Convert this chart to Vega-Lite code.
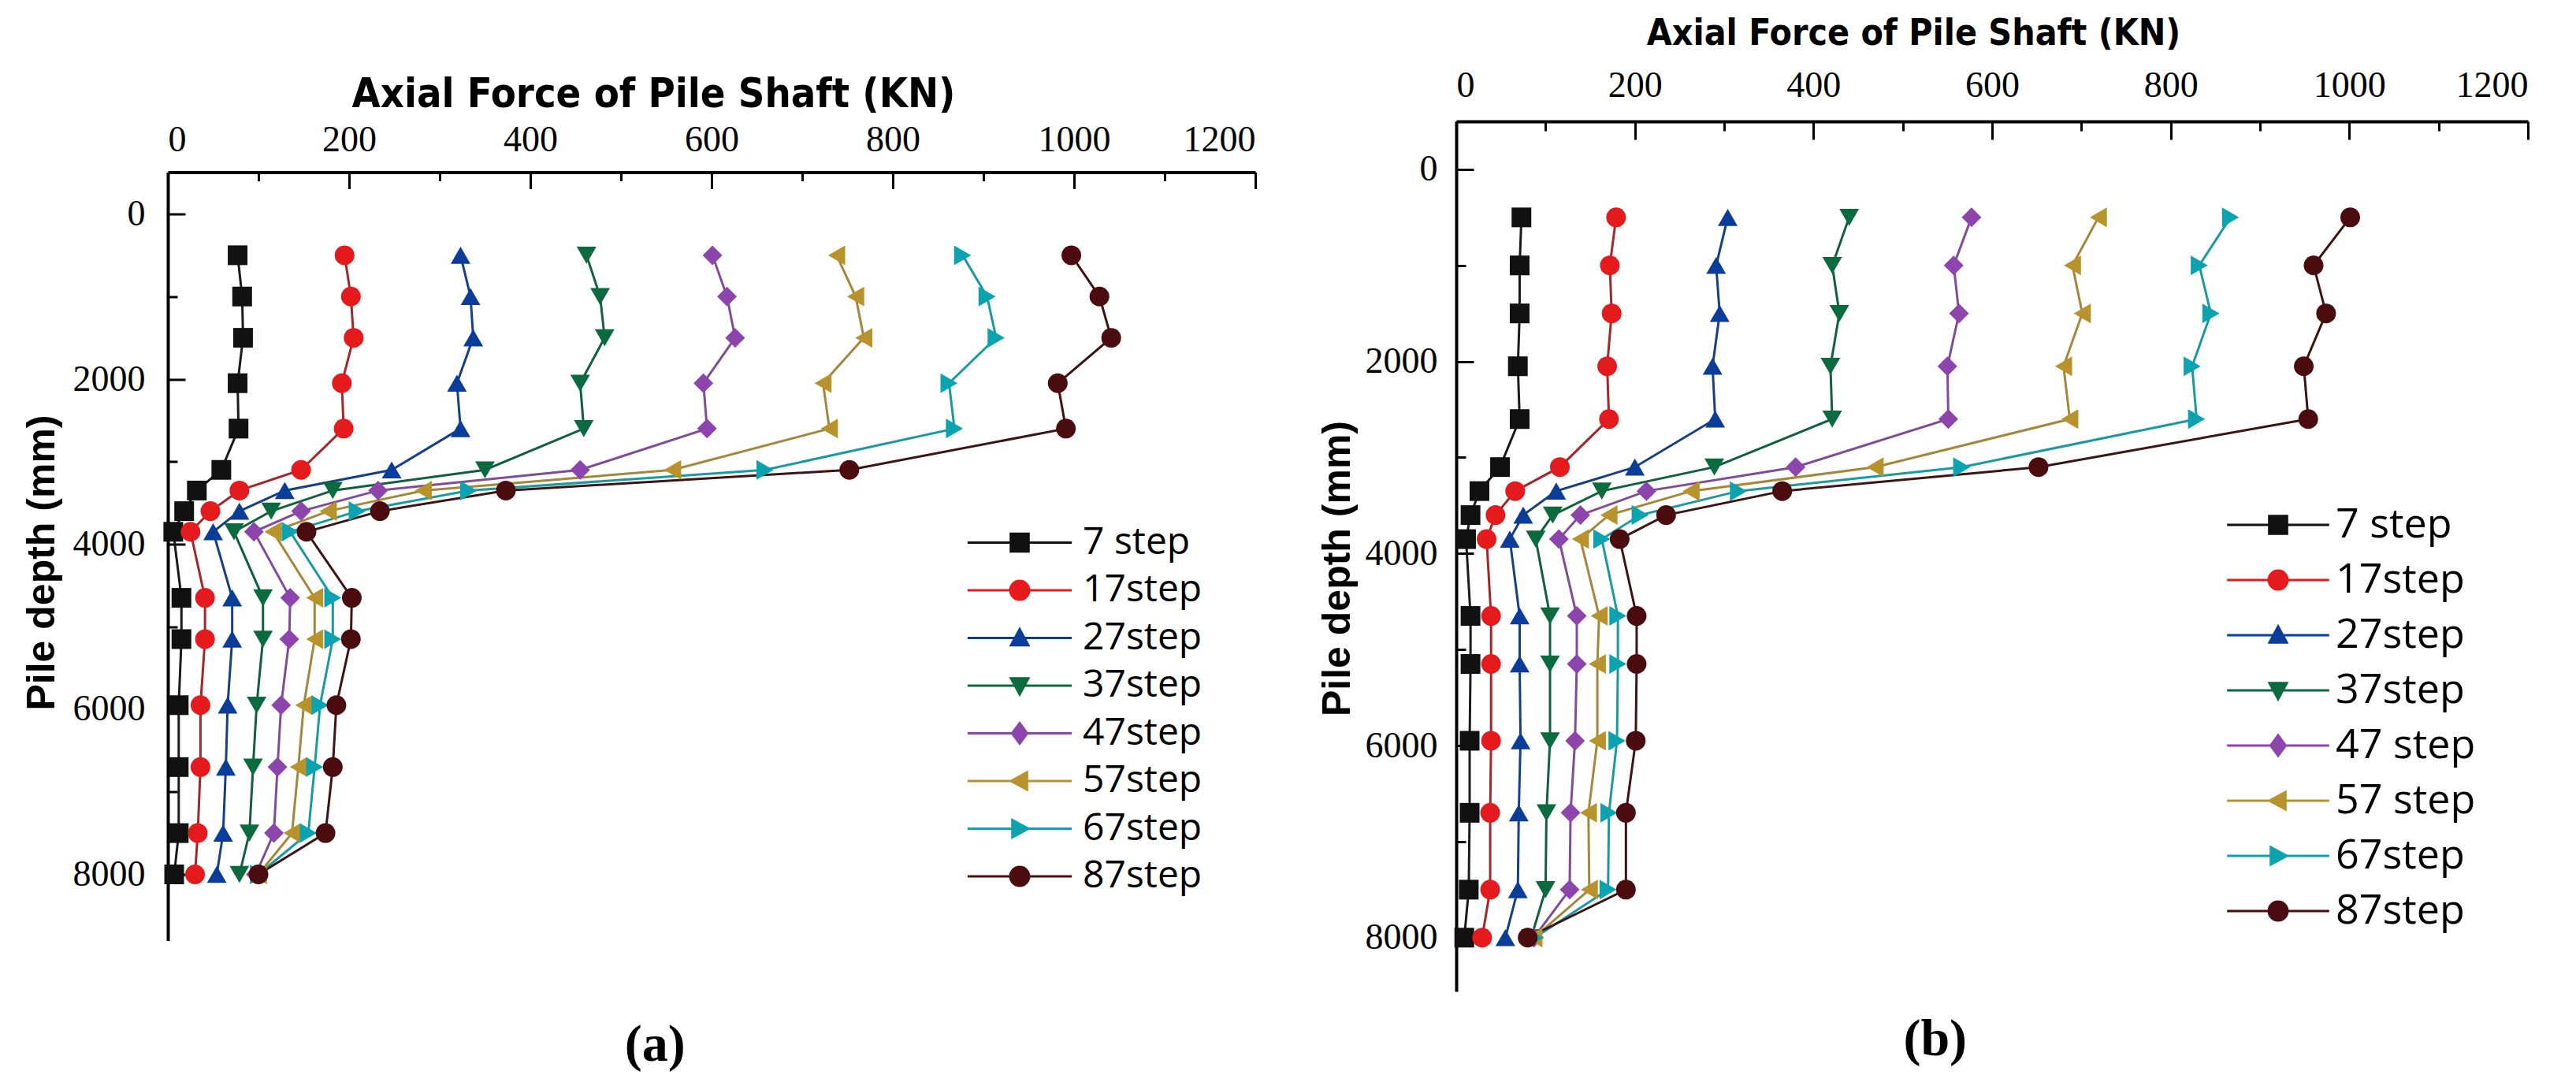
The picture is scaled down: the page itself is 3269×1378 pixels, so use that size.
{
  "$schema": "https://vega.github.io/schema/vega-lite/v6.json",
  "background": "white",
  "padding": {"left": 28, "top": 19, "right": 5, "bottom": 5},
  "config": {
    "view": {"stroke": null},
    "axis": {
      "grid": false,
      "domainColor": "black",
      "domainWidth": 4,
      "tickColor": "black",
      "tickWidth": 3,
      "labelColor": "black",
      "labelFont": "Liberation Serif",
      "labelFontSize": 46,
      "labelOverlap": false,
      "titleColor": "black"
    }
  },
  "datasets": {
    "a": [
      {"step": "7 step", "depth": 500, "force": 77}, {"step": "7 step", "depth": 1000, "force": 82}, {"step": "7 step", "depth": 1500, "force": 83}, {"step": "7 step", "depth": 2050, "force": 77}, {"step": "7 step", "depth": 2600, "force": 78}, {"step": "7 step", "depth": 3100, "force": 59}, {"step": "7 step", "depth": 3350, "force": 32}, {"step": "7 step", "depth": 3600, "force": 18}, {"step": "7 step", "depth": 3850, "force": 6}, {"step": "7 step", "depth": 4650, "force": 15}, {"step": "7 step", "depth": 5150, "force": 15}, {"step": "7 step", "depth": 5950, "force": 12}, {"step": "7 step", "depth": 6700, "force": 12}, {"step": "7 step", "depth": 7500, "force": 12}, {"step": "7 step", "depth": 8000, "force": 7},
      {"step": "17step", "depth": 500, "force": 195}, {"step": "17step", "depth": 1000, "force": 202}, {"step": "17step", "depth": 1500, "force": 205}, {"step": "17step", "depth": 2050, "force": 192}, {"step": "17step", "depth": 2600, "force": 194}, {"step": "17step", "depth": 3100, "force": 147}, {"step": "17step", "depth": 3350, "force": 79}, {"step": "17step", "depth": 3600, "force": 47}, {"step": "17step", "depth": 3850, "force": 25}, {"step": "17step", "depth": 4650, "force": 41}, {"step": "17step", "depth": 5150, "force": 41}, {"step": "17step", "depth": 5950, "force": 36}, {"step": "17step", "depth": 6700, "force": 36}, {"step": "17step", "depth": 7500, "force": 33}, {"step": "17step", "depth": 8000, "force": 30},
      {"step": "27step", "depth": 500, "force": 323}, {"step": "27step", "depth": 1000, "force": 334}, {"step": "27step", "depth": 1500, "force": 337}, {"step": "27step", "depth": 2050, "force": 319}, {"step": "27step", "depth": 2600, "force": 323}, {"step": "27step", "depth": 3100, "force": 247}, {"step": "27step", "depth": 3350, "force": 129}, {"step": "27step", "depth": 3600, "force": 79}, {"step": "27step", "depth": 3850, "force": 50}, {"step": "27step", "depth": 4650, "force": 71}, {"step": "27step", "depth": 5150, "force": 71}, {"step": "27step", "depth": 5950, "force": 66}, {"step": "27step", "depth": 6700, "force": 64}, {"step": "27step", "depth": 7500, "force": 61}, {"step": "27step", "depth": 8000, "force": 54},
      {"step": "37step", "depth": 500, "force": 462}, {"step": "37step", "depth": 1000, "force": 477}, {"step": "37step", "depth": 1500, "force": 482}, {"step": "37step", "depth": 2050, "force": 455}, {"step": "37step", "depth": 2600, "force": 459}, {"step": "37step", "depth": 3100, "force": 350}, {"step": "37step", "depth": 3350, "force": 182}, {"step": "37step", "depth": 3600, "force": 114}, {"step": "37step", "depth": 3850, "force": 73}, {"step": "37step", "depth": 4650, "force": 105}, {"step": "37step", "depth": 5150, "force": 105}, {"step": "37step", "depth": 5950, "force": 98}, {"step": "37step", "depth": 6700, "force": 94}, {"step": "37step", "depth": 7500, "force": 90}, {"step": "37step", "depth": 8000, "force": 79},
      {"step": "47step", "depth": 500, "force": 601}, {"step": "47step", "depth": 1000, "force": 617}, {"step": "47step", "depth": 1500, "force": 626}, {"step": "47step", "depth": 2050, "force": 591}, {"step": "47step", "depth": 2600, "force": 595}, {"step": "47step", "depth": 3100, "force": 455}, {"step": "47step", "depth": 3350, "force": 232}, {"step": "47step", "depth": 3600, "force": 147}, {"step": "47step", "depth": 3850, "force": 95}, {"step": "47step", "depth": 4650, "force": 135}, {"step": "47step", "depth": 5150, "force": 134}, {"step": "47step", "depth": 5950, "force": 125}, {"step": "47step", "depth": 6700, "force": 121}, {"step": "47step", "depth": 7500, "force": 117}, {"step": "47step", "depth": 8000, "force": 97},
      {"step": "57step", "depth": 500, "force": 738}, {"step": "57step", "depth": 1000, "force": 759}, {"step": "57step", "depth": 1500, "force": 768}, {"step": "57step", "depth": 2050, "force": 723}, {"step": "57step", "depth": 2600, "force": 730}, {"step": "57step", "depth": 3100, "force": 557}, {"step": "57step", "depth": 3350, "force": 282}, {"step": "57step", "depth": 3600, "force": 177}, {"step": "57step", "depth": 3850, "force": 116}, {"step": "57step", "depth": 4650, "force": 162}, {"step": "57step", "depth": 5150, "force": 162}, {"step": "57step", "depth": 5950, "force": 150}, {"step": "57step", "depth": 6700, "force": 144}, {"step": "57step", "depth": 7500, "force": 137}, {"step": "57step", "depth": 8000, "force": 100},
      {"step": "67step", "depth": 500, "force": 877}, {"step": "67step", "depth": 1000, "force": 904}, {"step": "67step", "depth": 1500, "force": 914}, {"step": "67step", "depth": 2050, "force": 862}, {"step": "67step", "depth": 2600, "force": 868}, {"step": "67step", "depth": 3100, "force": 659}, {"step": "67step", "depth": 3350, "force": 332}, {"step": "67step", "depth": 3600, "force": 209}, {"step": "67step", "depth": 3850, "force": 135}, {"step": "67step", "depth": 4650, "force": 182}, {"step": "67step", "depth": 5150, "force": 182}, {"step": "67step", "depth": 5950, "force": 168}, {"step": "67step", "depth": 6700, "force": 162}, {"step": "67step", "depth": 7500, "force": 155}, {"step": "67step", "depth": 8000, "force": 100},
      {"step": "87step", "depth": 500, "force": 997}, {"step": "87step", "depth": 1000, "force": 1028}, {"step": "87step", "depth": 1500, "force": 1041}, {"step": "87step", "depth": 2050, "force": 982}, {"step": "87step", "depth": 2600, "force": 991}, {"step": "87step", "depth": 3100, "force": 752}, {"step": "87step", "depth": 3350, "force": 373}, {"step": "87step", "depth": 3600, "force": 234}, {"step": "87step", "depth": 3850, "force": 153}, {"step": "87step", "depth": 4650, "force": 203}, {"step": "87step", "depth": 5150, "force": 202}, {"step": "87step", "depth": 5950, "force": 186}, {"step": "87step", "depth": 6700, "force": 182}, {"step": "87step", "depth": 7500, "force": 174}, {"step": "87step", "depth": 8000, "force": 100}
    ],
    "b": [
      {"step": "7 step", "depth": 500, "force": 73}, {"step": "7 step", "depth": 1000, "force": 71}, {"step": "7 step", "depth": 1500, "force": 71}, {"step": "7 step", "depth": 2050, "force": 69}, {"step": "7 step", "depth": 2600, "force": 71}, {"step": "7 step", "depth": 3100, "force": 49}, {"step": "7 step", "depth": 3350, "force": 26}, {"step": "7 step", "depth": 3600, "force": 16}, {"step": "7 step", "depth": 3850, "force": 11}, {"step": "7 step", "depth": 4650, "force": 16}, {"step": "7 step", "depth": 5150, "force": 16}, {"step": "7 step", "depth": 5950, "force": 15}, {"step": "7 step", "depth": 6700, "force": 15}, {"step": "7 step", "depth": 7500, "force": 14}, {"step": "7 step", "depth": 8000, "force": 9},
      {"step": "17step", "depth": 500, "force": 179}, {"step": "17step", "depth": 1000, "force": 172}, {"step": "17step", "depth": 1500, "force": 174}, {"step": "17step", "depth": 2050, "force": 169}, {"step": "17step", "depth": 2600, "force": 171}, {"step": "17step", "depth": 3100, "force": 116}, {"step": "17step", "depth": 3350, "force": 66}, {"step": "17step", "depth": 3600, "force": 44}, {"step": "17step", "depth": 3850, "force": 34}, {"step": "17step", "depth": 4650, "force": 39}, {"step": "17step", "depth": 5150, "force": 39}, {"step": "17step", "depth": 5950, "force": 39}, {"step": "17step", "depth": 6700, "force": 38}, {"step": "17step", "depth": 7500, "force": 38}, {"step": "17step", "depth": 8000, "force": 29},
      {"step": "27step", "depth": 500, "force": 304}, {"step": "27step", "depth": 1000, "force": 291}, {"step": "27step", "depth": 1500, "force": 295}, {"step": "27step", "depth": 2050, "force": 287}, {"step": "27step", "depth": 2600, "force": 290}, {"step": "27step", "depth": 3100, "force": 200}, {"step": "27step", "depth": 3350, "force": 112}, {"step": "27step", "depth": 3600, "force": 75}, {"step": "27step", "depth": 3850, "force": 60}, {"step": "27step", "depth": 4650, "force": 71}, {"step": "27step", "depth": 5150, "force": 71}, {"step": "27step", "depth": 5950, "force": 72}, {"step": "27step", "depth": 6700, "force": 70}, {"step": "27step", "depth": 7500, "force": 69}, {"step": "27step", "depth": 8000, "force": 55},
      {"step": "37step", "depth": 500, "force": 440}, {"step": "37step", "depth": 1000, "force": 421}, {"step": "37step", "depth": 1500, "force": 429}, {"step": "37step", "depth": 2050, "force": 419}, {"step": "37step", "depth": 2600, "force": 421}, {"step": "37step", "depth": 3100, "force": 289}, {"step": "37step", "depth": 3350, "force": 163}, {"step": "37step", "depth": 3600, "force": 108}, {"step": "37step", "depth": 3850, "force": 89}, {"step": "37step", "depth": 4650, "force": 105}, {"step": "37step", "depth": 5150, "force": 105}, {"step": "37step", "depth": 5950, "force": 105}, {"step": "37step", "depth": 6700, "force": 101}, {"step": "37step", "depth": 7500, "force": 100}, {"step": "37step", "depth": 8000, "force": 84},
      {"step": "47 step", "depth": 500, "force": 577}, {"step": "47 step", "depth": 1000, "force": 557}, {"step": "47 step", "depth": 1500, "force": 563}, {"step": "47 step", "depth": 2050, "force": 550}, {"step": "47 step", "depth": 2600, "force": 551}, {"step": "47 step", "depth": 3100, "force": 380}, {"step": "47 step", "depth": 3350, "force": 213}, {"step": "47 step", "depth": 3600, "force": 139}, {"step": "47 step", "depth": 3850, "force": 115}, {"step": "47 step", "depth": 4650, "force": 135}, {"step": "47 step", "depth": 5150, "force": 135}, {"step": "47 step", "depth": 5950, "force": 133}, {"step": "47 step", "depth": 6700, "force": 128}, {"step": "47 step", "depth": 7500, "force": 127}, {"step": "47 step", "depth": 8000, "force": 87},
      {"step": "57 step", "depth": 500, "force": 719}, {"step": "57 step", "depth": 1000, "force": 690}, {"step": "57 step", "depth": 1500, "force": 701}, {"step": "57 step", "depth": 2050, "force": 680}, {"step": "57 step", "depth": 2600, "force": 687}, {"step": "57 step", "depth": 3100, "force": 469}, {"step": "57 step", "depth": 3350, "force": 263}, {"step": "57 step", "depth": 3600, "force": 171}, {"step": "57 step", "depth": 3850, "force": 139}, {"step": "57 step", "depth": 4650, "force": 160}, {"step": "57 step", "depth": 5150, "force": 158}, {"step": "57 step", "depth": 5950, "force": 158}, {"step": "57 step", "depth": 6700, "force": 148}, {"step": "57 step", "depth": 7500, "force": 149}, {"step": "57 step", "depth": 8000, "force": 87},
      {"step": "67step", "depth": 500, "force": 867}, {"step": "67step", "depth": 1000, "force": 832}, {"step": "67step", "depth": 1500, "force": 845}, {"step": "67step", "depth": 2050, "force": 824}, {"step": "67step", "depth": 2600, "force": 829}, {"step": "67step", "depth": 3100, "force": 566}, {"step": "67step", "depth": 3350, "force": 316}, {"step": "67step", "depth": 3600, "force": 206}, {"step": "67step", "depth": 3850, "force": 163}, {"step": "67step", "depth": 4650, "force": 181}, {"step": "67step", "depth": 5150, "force": 181}, {"step": "67step", "depth": 5950, "force": 180}, {"step": "67step", "depth": 6700, "force": 171}, {"step": "67step", "depth": 7500, "force": 170}, {"step": "67step", "depth": 8000, "force": 88},
      {"step": "87step", "depth": 500, "force": 1001}, {"step": "87step", "depth": 1000, "force": 960}, {"step": "87step", "depth": 1500, "force": 974}, {"step": "87step", "depth": 2050, "force": 949}, {"step": "87step", "depth": 2600, "force": 954}, {"step": "87step", "depth": 3100, "force": 652}, {"step": "87step", "depth": 3350, "force": 365}, {"step": "87step", "depth": 3600, "force": 235}, {"step": "87step", "depth": 3850, "force": 183}, {"step": "87step", "depth": 4650, "force": 202}, {"step": "87step", "depth": 5150, "force": 202}, {"step": "87step", "depth": 5950, "force": 201}, {"step": "87step", "depth": 6700, "force": 190}, {"step": "87step", "depth": 7500, "force": 190}, {"step": "87step", "depth": 8000, "force": 80}
    ]
  },
  "spacing": 255,
  "bounds": "flush",
  "center": true,
  "resolve": {"scale": {"color": "independent", "shape": "independent"}},
  "hconcat": [
    {
      "width": 1380,
      "height": 975,
      "data": {"name": "a"},
      "title": {"text": "(a)", "orient": "bottom", "anchor": "middle", "frame": "bounds", "offset": 100, "dx": 20, "font": "Liberation Serif", "fontSize": 66, "fontWeight": "bold", "color": "black"},
      "resolve": {"scale": {"color": "independent", "shape": "independent"}},
      "encoding": {
        "x": {
          "field": "force", "type": "quantitative",
          "scale": {"domain": [0, 1200], "nice": false, "zero": false},
          "axis": {
            "orient": "top",
            "values": [0, 100, 200, 300, 400, 500, 600, 700, 800, 900, 1000, 1100, 1200],
            "format": "d",
            "labelExpr": "datum.value % 200 === 0 ? datum.label : ''",
            "labelFont": "Liberation Serif",
            "labelFontSize": 46,
            "tickSize": {"condition": {"test": "datum.value % 200 === 0", "value": -21}, "value": -11},
            "tickWidth": 3,
            "labelPadding": 38,
            "title": "Axial Force of Pile Shaft (KN)",
            "titleFont": "Liberation Sans Narrow, DejaVu Sans Condensed, sans-serif",
            "titleFontSize": 52,
            "titleFontWeight": "bold",
            "titleX": 616,
            "titleY": -99,
            "titleAlign": "center",
            "titleBaseline": "middle"
          }
        },
        "y": {
          "field": "depth", "type": "quantitative",
          "scale": {"domain": [-506, 8802], "reverse": true, "nice": false, "zero": false},
          "axis": {
            "orient": "left",
            "values": [0, 1000, 2000, 3000, 4000, 5000, 6000, 7000, 8000],
            "format": "d",
            "labelExpr": "datum.value % 2000 === 0 ? datum.label : ''",
            "labelFont": "Liberation Serif",
            "labelFontSize": 46,
            "tickSize": {"condition": {"test": "datum.value % 2000 === 0", "value": -22}, "value": -12},
            "tickWidth": 3,
            "labelPadding": 51,
            "title": "Pile depth (mm)",
            "titleFont": "Liberation Sans",
            "titleFontSize": 50,
            "titleFontWeight": "bold",
            "titleX": -160,
            "titleY": 495,
            "titleAlign": "center",
            "titleBaseline": "middle"
          }
        }
      },
      "layer": [
        {
          "mark": {"type": "line", "strokeWidth": 3},
          "encoding": {
            "color": {
              "field": "step", "type": "nominal",
              "scale": {
                "domain": ["7 step", "17step", "27step", "37step", "47step", "57step", "67step", "87step"],
                "range": ["#1a1a1a", "#a0282a", "#173f86", "#125f3f", "#7f4d98", "#a3873a", "#1a9aa0", "#3d1414"]
              },
              "legend": null
            },
            "order": {"field": "depth", "type": "quantitative"}
          }
        },
        {
          "mark": {"type": "point", "filled": true, "opacity": 1, "size": 625, "strokeWidth": 0},
          "encoding": {
            "color": {
              "field": "step", "type": "nominal",
              "scale": {
                "domain": ["7 step", "17step", "27step", "37step", "47step", "57step", "67step", "87step"],
                "range": ["#111111", "#e41a1c", "#0a3d99", "#0b6a3e", "#8e44ad", "#b8932c", "#0ba3b0", "#4b0c10"]
              },
              "legend": null
            },
            "shape": {
              "field": "step", "type": "nominal",
              "scale": {
                "domain": ["7 step", "17step", "27step", "37step", "47step", "57step", "67step", "87step"],
                "range": ["square", "circle", "triangle-up", "triangle-down", "diamond", "triangle-left", "triangle-right", "circle"]
              },
              "legend": null
            }
          }
        },
        {
          "transform": [{"filter": "datum.depth < 0"}],
          "mark": {"type": "point", "filled": true, "opacity": 1, "strokeWidth": 0},
          "encoding": {
            "color": {
              "field": "step", "type": "nominal",
              "scale": {
                "domain": ["7 step", "17step", "27step", "37step", "47step", "57step", "67step", "87step"],
                "range": ["#111111", "#e41a1c", "#0a3d99", "#0b6a3e", "#8e44ad", "#b8932c", "#0ba3b0", "#4b0c10"]
              },
              "legend": {"orient": "none", "legendX": 1057, "legendY": 446, "title": null, "padding": 0, "labelFont": "Open Sans", "labelFontSize": 48, "labelColor": "black", "labelOffset": 56, "rowPadding": 12.5, "symbolSize": 729, "symbolStrokeWidth": 0, "labelLimit": 0}
            },
            "shape": {
              "field": "step", "type": "nominal",
              "scale": {
                "domain": ["7 step", "17step", "27step", "37step", "47step", "57step", "67step", "87step"],
                "range": [
                  "M-4.9,-0.12H4.9V0.12H-4.9Z M-0.95,-0.95H0.95V0.95H-0.95Z",
                  "M-4.9,-0.12H4.9V0.12H-4.9Z M1,0A1,1 0 1,1 -1,0A1,1 0 1,1 1,0Z",
                  "M-4.9,-0.12H4.9V0.12H-4.9Z M0,-1.05L1,0.8H-1Z",
                  "M-4.9,-0.12H4.9V0.12H-4.9Z M0,1.05L-1,-0.8H1Z",
                  "M-4.9,-0.12H4.9V0.12H-4.9Z M0,-1.15L0.85,0L0,1.15L-0.85,0Z",
                  "M-4.9,-0.12H4.9V0.12H-4.9Z M-1.05,0L0.8,-1V1Z",
                  "M-4.9,-0.12H4.9V0.12H-4.9Z M1.05,0L-0.8,1V-1Z",
                  "M-4.9,-0.12H4.9V0.12H-4.9Z M1,0A1,1 0 1,1 -1,0A1,1 0 1,1 1,0Z"
                ]
              },
              "legend": {"orient": "none", "legendX": 1057, "legendY": 446, "title": null, "padding": 0, "labelFont": "Open Sans", "labelFontSize": 48, "labelColor": "black", "labelOffset": 56, "rowPadding": 12.5, "symbolSize": 729, "symbolStrokeWidth": 0, "labelLimit": 0}
            }
          }
        }
      ]
    },
    {
      "width": 1360,
      "height": 1104,
      "data": {"name": "b"},
      "title": {"text": "(b)", "orient": "bottom", "anchor": "middle", "frame": "bounds", "offset": 29, "dx": 15, "font": "Liberation Serif", "fontSize": 66, "fontWeight": "bold", "color": "black"},
      "resolve": {"scale": {"color": "independent", "shape": "independent"}},
      "encoding": {
        "x": {
          "field": "force", "type": "quantitative",
          "scale": {"domain": [0, 1200], "nice": false, "zero": false},
          "axis": {
            "orient": "top",
            "values": [0, 100, 200, 300, 400, 500, 600, 700, 800, 900, 1000, 1100, 1200],
            "format": "d",
            "labelExpr": "datum.value % 200 === 0 ? datum.label : ''",
            "labelFont": "Liberation Serif",
            "labelFontSize": 46,
            "tickSize": {"condition": {"test": "datum.value % 200 === 0", "value": -23}, "value": -12},
            "tickWidth": 3,
            "labelPadding": 45,
            "title": "Axial Force of Pile Shaft (KN)",
            "titleFont": "Liberation Sans Narrow, DejaVu Sans Condensed, sans-serif",
            "titleFontSize": 46,
            "titleFontWeight": "bold",
            "titleX": 580,
            "titleY": -112,
            "titleAlign": "center",
            "titleBaseline": "middle"
          }
        },
        "y": {
          "field": "depth", "type": "quantitative",
          "scale": {"domain": [-500, 8560], "reverse": true, "nice": false, "zero": false},
          "axis": {
            "orient": "left",
            "values": [0, 1000, 2000, 3000, 4000, 5000, 6000, 7000, 8000],
            "format": "d",
            "labelExpr": "datum.value % 2000 === 0 ? datum.label : ''",
            "labelFont": "Liberation Serif",
            "labelFontSize": 46,
            "tickSize": {"condition": {"test": "datum.value % 2000 === 0", "value": -22}, "value": -12},
            "tickWidth": 3,
            "labelPadding": 46,
            "title": "Pile depth (mm)",
            "titleFont": "Liberation Sans",
            "titleFontSize": 50,
            "titleFontWeight": "bold",
            "titleX": -151,
            "titleY": 567,
            "titleAlign": "center",
            "titleBaseline": "middle"
          }
        }
      },
      "layer": [
        {
          "mark": {"type": "line", "strokeWidth": 3},
          "encoding": {
            "color": {
              "field": "step", "type": "nominal",
              "scale": {
                "domain": ["7 step", "17step", "27step", "37step", "47 step", "57 step", "67step", "87step"],
                "range": ["#1a1a1a", "#a0282a", "#173f86", "#125f3f", "#7f4d98", "#a3873a", "#1a9aa0", "#3d1414"]
              },
              "legend": null
            },
            "order": {"field": "depth", "type": "quantitative"}
          }
        },
        {
          "mark": {"type": "point", "filled": true, "opacity": 1, "size": 625, "strokeWidth": 0},
          "encoding": {
            "color": {
              "field": "step", "type": "nominal",
              "scale": {
                "domain": ["7 step", "17step", "27step", "37step", "47 step", "57 step", "67step", "87step"],
                "range": ["#111111", "#e41a1c", "#0a3d99", "#0b6a3e", "#8e44ad", "#b8932c", "#0ba3b0", "#4b0c10"]
              },
              "legend": null
            },
            "shape": {
              "field": "step", "type": "nominal",
              "scale": {
                "domain": ["7 step", "17step", "27step", "37step", "47 step", "57 step", "67step", "87step"],
                "range": ["square", "circle", "triangle-up", "triangle-down", "diamond", "triangle-left", "triangle-right", "circle"]
              },
              "legend": null
            }
          }
        },
        {
          "transform": [{"filter": "datum.depth < 0"}],
          "mark": {"type": "point", "filled": true, "opacity": 1, "strokeWidth": 0},
          "encoding": {
            "color": {
              "field": "step", "type": "nominal",
              "scale": {
                "domain": ["7 step", "17step", "27step", "37step", "47 step", "57 step", "67step", "87step"],
                "range": ["#111111", "#e41a1c", "#0a3d99", "#0b6a3e", "#8e44ad", "#b8932c", "#0ba3b0", "#4b0c10"]
              },
              "legend": {"orient": "none", "legendX": 1017, "legendY": 486, "title": null, "padding": 0, "labelFont": "Open Sans", "labelFontSize": 52, "labelColor": "black", "labelOffset": 47, "rowPadding": 18, "symbolSize": 729, "symbolStrokeWidth": 0, "labelLimit": 0}
            },
            "shape": {
              "field": "step", "type": "nominal",
              "scale": {
                "domain": ["7 step", "17step", "27step", "37step", "47 step", "57 step", "67step", "87step"],
                "range": [
                  "M-4.8,-0.12H4.8V0.12H-4.8Z M-0.95,-0.95H0.95V0.95H-0.95Z",
                  "M-4.8,-0.12H4.8V0.12H-4.8Z M1,0A1,1 0 1,1 -1,0A1,1 0 1,1 1,0Z",
                  "M-4.8,-0.12H4.8V0.12H-4.8Z M0,-1.05L1,0.8H-1Z",
                  "M-4.8,-0.12H4.8V0.12H-4.8Z M0,1.05L-1,-0.8H1Z",
                  "M-4.8,-0.12H4.8V0.12H-4.8Z M0,-1.15L0.85,0L0,1.15L-0.85,0Z",
                  "M-4.8,-0.12H4.8V0.12H-4.8Z M-1.05,0L0.8,-1V1Z",
                  "M-4.8,-0.12H4.8V0.12H-4.8Z M1.05,0L-0.8,1V-1Z",
                  "M-4.8,-0.12H4.8V0.12H-4.8Z M1,0A1,1 0 1,1 -1,0A1,1 0 1,1 1,0Z"
                ]
              },
              "legend": {"orient": "none", "legendX": 1017, "legendY": 486, "title": null, "padding": 0, "labelFont": "Open Sans", "labelFontSize": 52, "labelColor": "black", "labelOffset": 47, "rowPadding": 18, "symbolSize": 729, "symbolStrokeWidth": 0, "labelLimit": 0}
            }
          }
        }
      ]
    }
  ]
}
